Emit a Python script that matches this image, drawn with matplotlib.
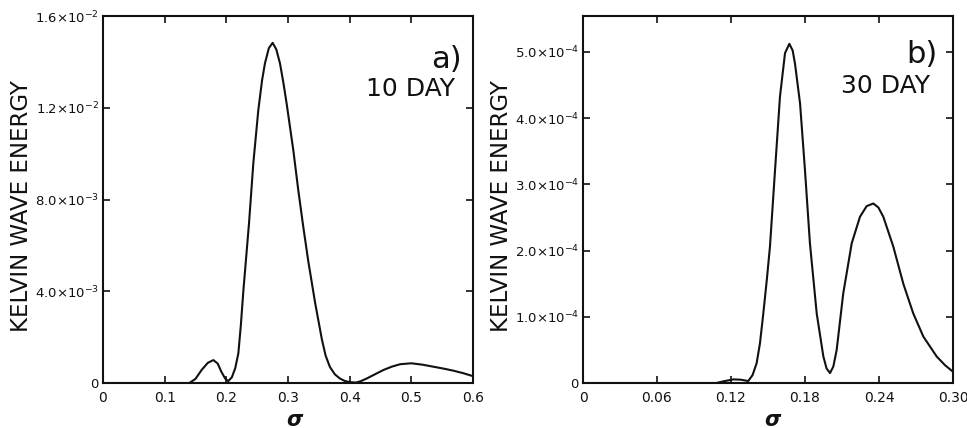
"""Kelvin wave energy against frequency sigma, for the 10 day and 30 day runs."""
import matplotlib
matplotlib.use("Agg")
import matplotlib.pyplot as plt

# (a) 10 day forcing: sigma and energy
SIGMA_10 = [0.0, 0.14, 0.150, 0.160, 0.170, 0.179, 0.186, 0.192, 0.198,
            0.203, 0.209, 0.2145, 0.2195, 0.2235, 0.2276, 0.2368, 0.2438,
            0.2519, 0.2580, 0.2627, 0.2690, 0.2751, 0.281, 0.287, 0.2925,
            0.2978, 0.3086, 0.3167, 0.3248, 0.333, 0.344, 0.355, 0.361,
            0.368, 0.376, 0.384, 0.392, 0.40, 0.41, 0.418, 0.428, 0.441,
            0.455, 0.468, 0.482, 0.50, 0.518, 0.536, 0.552, 0.568, 0.584,
            0.60]
ENERGY_10 = [0.0, 0.0, 0.18e-3, 0.57e-3, 0.88e-3, 1.0e-3, 0.85e-3, 0.49e-3,
             0.2e-3, 0.08e-3, 0.25e-3, 0.65e-3, 1.29e-3, 2.5e-3, 4.0e-3,
             6.96e-3, 9.58e-3, 11.9e-3, 13.2e-3, 13.94e-3, 14.6e-3,
             14.83e-3, 14.55e-3, 13.94e-3, 13.1e-3, 12.19e-3, 10.16e-3,
             8.41e-3, 6.81e-3, 5.3e-3, 3.5e-3, 1.9e-3, 1.2e-3, 0.7e-3,
             0.38e-3, 0.2e-3, 0.09e-3, 0.04e-3, 0.02e-3, 0.08e-3, 0.2e-3,
             0.38e-3, 0.57e-3, 0.71e-3, 0.82e-3, 0.86e-3, 0.8e-3, 0.71e-3,
             0.63e-3, 0.54e-3, 0.43e-3, 0.3e-3]

# (b) 30 day forcing
SIGMA_30 = [0.0, 0.108, 0.115, 0.122, 0.128, 0.134, 0.1375, 0.1408, 0.1435,
            0.1462, 0.1490, 0.1516, 0.1557, 0.1597, 0.1638, 0.1673, 0.1700,
            0.1719, 0.176, 0.180, 0.184, 0.1895, 0.1949, 0.1975, 0.2003,
            0.2030, 0.2057, 0.211, 0.2179, 0.2246, 0.2300, 0.2354, 0.2395,
            0.2435, 0.2516, 0.2597, 0.2678, 0.276, 0.2868, 0.2935, 0.30]
ENERGY_30 = [0.0, 0.0, 0.03e-4, 0.055e-4, 0.05e-4, 0.03e-4, 0.12e-4,
             0.3e-4, 0.6e-4, 1.05e-4, 1.55e-4, 2.06e-4, 3.21e-4, 4.32e-4,
             4.98e-4, 5.12e-4, 5.02e-4, 4.82e-4, 4.22e-4, 3.21e-4, 2.11e-4,
             1.05e-4, 0.4e-4, 0.22e-4, 0.15e-4, 0.25e-4, 0.5e-4, 1.35e-4,
             2.11e-4, 2.51e-4, 2.67e-4, 2.71e-4, 2.65e-4, 2.51e-4, 2.06e-4,
             1.5e-4, 1.05e-4, 0.7e-4, 0.4e-4, 0.27e-4, 0.17e-4]

XTICKS_10 = [0.0, 0.1, 0.2, 0.3, 0.4, 0.5, 0.6]
XLABELS_10 = ["0", "0.1", "0.2", "0.3", "0.4", "0.5", "0.6"]
YTICKS_10 = [0.0, 4e-3, 8e-3, 1.2e-2, 1.6e-2]
YLABELS_10 = ["0", r"$\mathregular{4.0{\times}10^{-3}}$",
              r"$\mathregular{8.0{\times}10^{-3}}$",
              r"$\mathregular{1.2{\times}10^{-2}}$",
              r"$\mathregular{1.6{\times}10^{-2}}$"]

XTICKS_30 = [0.0, 0.06, 0.12, 0.18, 0.24, 0.30]
XLABELS_30 = ["0", "0.06", "0.12", "0.18", "0.24", "0.30"]
YTICKS_30 = [0.0, 1e-4, 2e-4, 3e-4, 4e-4, 5e-4]
YLABELS_30 = ["0", r"$\mathregular{1.0{\times}10^{-4}}$",
              r"$\mathregular{2.0{\times}10^{-4}}$",
              r"$\mathregular{3.0{\times}10^{-4}}$",
              r"$\mathregular{4.0{\times}10^{-4}}$",
              r"$\mathregular{5.0{\times}10^{-4}}$"]

INK = "#111111"
plt.rcParams["font.family"] = ["DejaVu Sans"]
plt.rcParams["mathtext.fontset"] = "dejavusans"


def panel(ax, sigma, energy, xticks, xlabels, yticks, ylabels, ytop,
          letter, letter_pos, days, days_pos, sigma_x):
    ax.plot(sigma, energy, color=INK, lw=1.5)
    ax.set_xlim(xticks[0], xticks[-1])
    ax.set_ylim(0.0, ytop)
    ax.set_xticks(xticks, xlabels)
    ax.set_yticks(yticks, ylabels)
    ax.tick_params(direction="in", top=True, right=True, length=5,
                   width=1.2, colors=INK)
    ax.tick_params(axis="x", pad=6, labelsize=10)
    ax.tick_params(axis="y", pad=3, labelsize=9.5)
    for spine in ax.spines.values():
        spine.set_linewidth(1.5)
        spine.set_color(INK)
    ax.set_xlabel(r"$\boldsymbol{\sigma}$", fontsize=15, color=INK,
                  va="center")
    ax.xaxis.set_label_coords(sigma_x, -0.1)
    ax.set_ylabel("KELVIN WAVE ENERGY", fontsize=16.5, color=INK,
                  labelpad=1)
    ax.yaxis.label.set_y(0.482)
    ax.text(letter_pos[0], letter_pos[1], letter, transform=ax.transAxes,
            ha="right", va="baseline", fontsize=22, color=INK)
    ax.text(days_pos[0], days_pos[1], days, transform=ax.transAxes,
            ha="right", va="baseline", fontsize=18, color=INK)


def main():
    fig = plt.figure(figsize=(9.67, 4.28), dpi=100)
    left = fig.add_axes([0.1065, 0.1051, 0.3826, 0.8575])
    right = fig.add_axes([0.6029, 0.1051, 0.3826, 0.8575])
    panel(left, SIGMA_10, ENERGY_10, XTICKS_10, XLABELS_10, YTICKS_10,
          YLABELS_10, 1.6e-2, "a)", (0.970, 0.858), "10 DAY",
          (0.951, 0.783), 0.519)
    panel(right, SIGMA_30, ENERGY_30, XTICKS_30, XLABELS_30, YTICKS_30,
          YLABELS_30, 5.54e-4, "b)", (0.957, 0.872), "30 DAY",
          (0.938, 0.790), 0.514)
    fig.savefig("out.png", dpi=100)
    plt.close(fig)


if __name__ == "__main__":
    main()
